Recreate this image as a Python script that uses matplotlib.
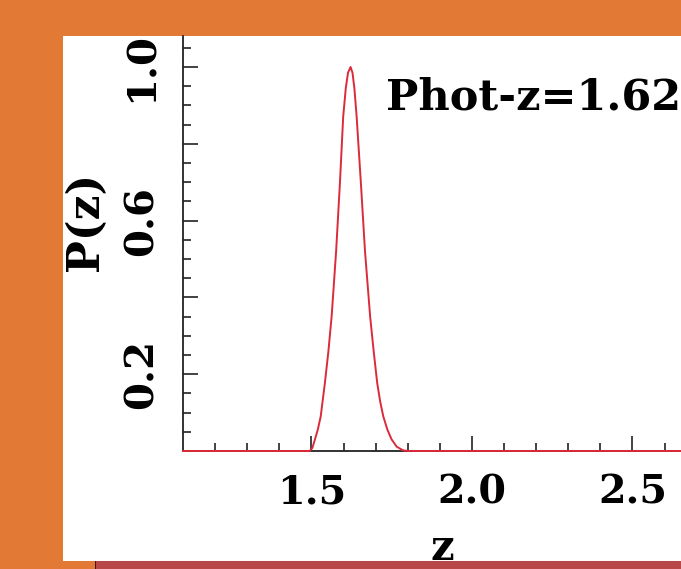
import matplotlib
matplotlib.use("Agg")
import matplotlib.pyplot as plt
from matplotlib.patches import Rectangle
from matplotlib.ticker import FixedLocator, FixedFormatter

# ---- data ----
z_values = [1.10, 1.495, 1.503, 1.511, 1.520, 1.529, 1.542, 1.553, 1.563, 1.577,
            1.589, 1.599, 1.607, 1.614, 1.622, 1.628, 1.634, 1.641, 1.654, 1.667,
            1.683, 1.694, 1.705, 1.714, 1.724, 1.737, 1.750, 1.766, 1.785, 1.80, 2.65]
pz_values = [0.0, 0.0, 0.008, 0.03, 0.056, 0.09, 0.177, 0.26, 0.35, 0.52,
             0.70, 0.87, 0.944, 0.985, 1.0, 0.985, 0.944, 0.87, 0.70, 0.52,
             0.35, 0.26, 0.177, 0.13, 0.09, 0.055, 0.03, 0.011, 0.002, 0.0, 0.0]
x_major = [1.5, 2.0, 2.5]
x_major_labels = ["1.5", "2.0", "2.5"]
x_minor = [1.2, 1.3, 1.4, 1.6, 1.7, 1.8, 1.9, 2.1, 2.2, 2.3, 2.4, 2.6]
y_major = [0.2, 0.4, 0.6, 0.8, 1.0]
y_major_labels = ["0.2", "", "0.6", "", "1.0"]
y_minor = [0.05, 0.10, 0.15, 0.25, 0.30, 0.35, 0.45, 0.50, 0.55, 0.65, 0.70,
           0.75, 0.85, 0.90, 0.95, 1.05]
annotation = "Phot-z=1.62"
x_label = "z"
y_label = "P(z)"

W, H = 681, 569
ORANGE = "#E27A36"
STRIP = "#B94848"

fig = plt.figure(figsize=(W / 100, H / 100), dpi=100, facecolor=ORANGE)

# white panel and bottom strip
fig.patches.append(Rectangle((63 / W, 8 / H), (W - 63) / W, (561 - 36) / H,
                             transform=fig.transFigure, facecolor="white",
                             edgecolor="none", zorder=-10))
fig.patches.append(Rectangle((96 / W, 0), (W - 96) / W, 8 / H,
                             transform=fig.transFigure, facecolor=STRIP,
                             edgecolor="none", zorder=-10))
fig.patches.append(Rectangle((94.5 / W, 0), 1.5 / W, 8 / H,
                             transform=fig.transFigure, facecolor="#3a1a10",
                             edgecolor="none", zorder=-10))

ax_left, ax_right, ax_bot, ax_top = 183, 681, 451, 36
ax = fig.add_axes([ax_left / W, (H - ax_bot) / H, (ax_right - ax_left) / W,
                   (ax_bot - ax_top) / H])
ax.set_zorder(1)
ax.patch.set_alpha(0)

ax.plot(z_values, pz_values, color="#dc2a3a", lw=1.4, zorder=3, clip_on=False,
        solid_joinstyle="round")

ax.set_xlim(1.1, 1.1 + (ax_right - ax_left) / 321.0)
ax.set_ylim(0, (ax_bot - ax_top) / 384.0)

for s in ("top", "right"):
    ax.spines[s].set_visible(False)
for s in ("left", "bottom"):
    ax.spines[s].set_color("#222222")
    ax.spines[s].set_linewidth(1.3)

ax.xaxis.set_major_locator(FixedLocator(x_major))
ax.xaxis.set_major_formatter(FixedFormatter(x_major_labels))
ax.xaxis.set_minor_locator(FixedLocator(x_minor))
ax.yaxis.set_major_locator(FixedLocator(y_major))
ax.yaxis.set_major_formatter(FixedFormatter(y_major_labels))
ax.yaxis.set_minor_locator(FixedLocator(y_minor))

font = dict(family="DejaVu Serif", weight="bold")
ax.tick_params(which="both", direction="in", color="#222222", width=1.2)
ax.tick_params(which="major", length=11)
ax.tick_params(which="minor", length=5.5)
ax.tick_params(axis="x", which="major", pad=16)
ax.tick_params(axis="y", which="major", pad=16)
for lab in ax.get_xticklabels():
    lab.set_fontfamily("DejaVu Serif")
    lab.set_fontweight("bold")
    lab.set_fontsize(28.5)
for lab in ax.get_yticklabels():
    lab.set_fontfamily("DejaVu Serif")
    lab.set_fontweight("bold")
    lab.set_fontsize(29)
    lab.set_rotation(90)
    lab.set_va("center")
    lab.set_ha("right")

ax.set_xlabel(x_label, fontsize=30, **font)
ax.xaxis.label.set_va("baseline")
ax.xaxis.set_label_coords((442.5 - ax_left) / (ax_right - ax_left),
                          (ax_bot - 560) / (ax_bot - ax_top))

ax.set_ylabel(y_label, fontsize=31.5, **font)
ax.yaxis.label.set_va("center")
ax.yaxis.label.set_ha("center")
ax.yaxis.set_label_coords((85 - ax_left) / (ax_right - ax_left),
                          (ax_bot - 221) / (ax_bot - ax_top))

ax.text((386 - ax_left) / (ax_right - ax_left), (ax_bot - 110) / (ax_bot - ax_top),
        annotation, transform=ax.transAxes, ha="left", va="baseline",
        fontsize=31, color="black", clip_on=False, **font)

fig.savefig("out.png", dpi=100, facecolor=ORANGE)
